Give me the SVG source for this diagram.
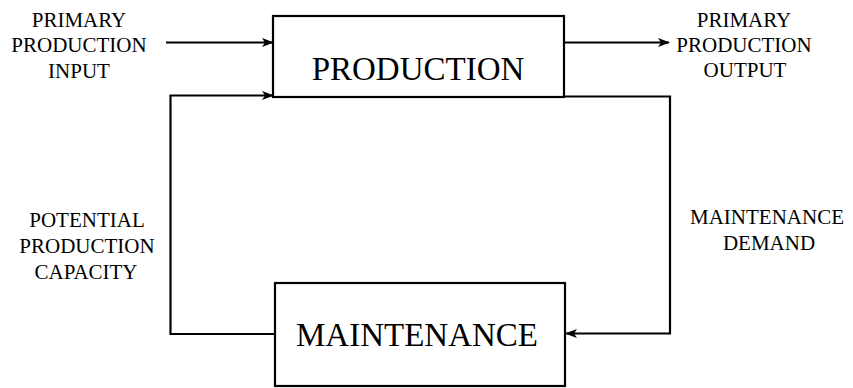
<svg xmlns="http://www.w3.org/2000/svg" width="853" height="388" viewBox="0 0 853 388">
<style>
.box{fill:#fff;stroke:#000;stroke-width:2.2}
.line{fill:none;stroke:#000;stroke-width:2.2}
.big{font-family:"Liberation Serif",serif;font-size:33px;text-anchor:middle;fill:#000}
.lbl{font-family:"Liberation Serif",serif;font-size:21px;text-anchor:middle;fill:#000}
</style>
<defs>
<marker id="arr" viewBox="0 0 12 10" refX="11" refY="5" markerWidth="12" markerHeight="10" markerUnits="userSpaceOnUse" orient="auto">
<path d="M0,0.5 L12,5 L0,9.5 L3,5 z" fill="#000"/>
</marker>
</defs>
<rect width="853" height="388" fill="#fff"/>
<g id="connectors">
<line class="line" x1="166" y1="42.5" x2="273" y2="42.5" marker-end="url(#arr)"/>
<polyline class="line" points="275,334 170.5,334 170.5,95.5 273,95.5" marker-end="url(#arr)"/>
<line class="line" x1="564" y1="42.5" x2="669" y2="42.5" marker-end="url(#arr)"/>
<polyline class="line" points="564,96.5 670,96.5 670,333.5 566,333.5" marker-end="url(#arr)"/>
</g>
<g id="production">
<rect class="box" x="273" y="16" width="291" height="81"/>
<text class="big" x="418" y="80">PRODUCTION</text>
</g>
<g id="maintenance">
<rect class="box" x="275" y="283" width="290" height="103"/>
<text class="big" x="417" y="346">MAINTENANCE</text>
</g>
<g id="label-input">
<text class="lbl" x="79" y="27">PRIMARY</text>
<text class="lbl" x="79" y="52">PRODUCTION</text>
<text class="lbl" x="79" y="78">INPUT</text>
</g>
<g id="label-output">
<text class="lbl" x="744" y="27">PRIMARY</text>
<text class="lbl" x="744" y="52">PRODUCTION</text>
<text class="lbl" x="745" y="77">OUTPUT</text>
</g>
<g id="label-capacity">
<text class="lbl" x="87" y="227">POTENTIAL</text>
<text class="lbl" x="87" y="253">PRODUCTION</text>
<text class="lbl" x="86" y="279">CAPACITY</text>
</g>
<g id="label-demand">
<text class="lbl" x="767" y="224">MAINTENANCE</text>
<text class="lbl" x="769" y="250">DEMAND</text>
</g>
</svg>
